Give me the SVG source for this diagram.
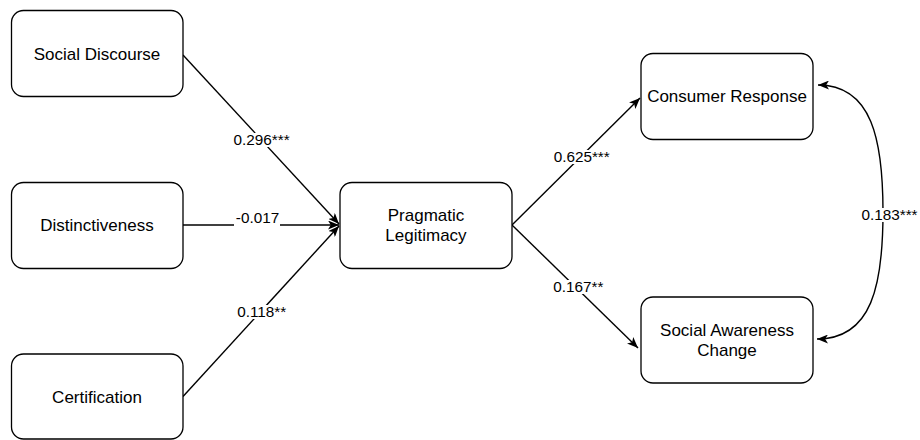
<svg xmlns="http://www.w3.org/2000/svg" width="920" height="440" viewBox="0 0 920 440">
  <style>
    .node rect { fill: #ffffff; stroke: #000000; stroke-width: 1.3; }
    .node text { font-family: "Liberation Sans", Arial, Helvetica, sans-serif; font-size: 17px; fill: #000000; text-anchor: middle; }
    .edge { fill: none; stroke: #000000; stroke-width: 1.4; }
    .lbl-bg { fill: #ffffff; stroke: none; }
    .lbl { font-family: "Liberation Sans", Arial, Helvetica, sans-serif; font-size: 15.3px; fill: #000000; text-anchor: middle; }
  </style>
  <defs>
    <marker id="arrow" viewBox="0 0 11 9" refX="11" refY="4.5" markerWidth="11" markerHeight="9" markerUnits="userSpaceOnUse" orient="auto-start-reverse">
      <path d="M0,0 L11,4.5 L0,9 L2.8,4.5 Z" fill="#000000"/>
    </marker>
  </defs>

  <rect width="920" height="440" fill="#ffffff"/>

  <!-- connectors -->
  <g id="connectors">
    <path class="edge" d="M183,55 L339,224" marker-end="url(#arrow)"/>
    <path class="edge" d="M183,225 L339,225" marker-end="url(#arrow)"/>
    <path class="edge" d="M183,396.5 L339,226" marker-end="url(#arrow)"/>
    <path class="edge" d="M512,225 L640,98" marker-end="url(#arrow)"/>
    <path class="edge" d="M512,225 L638,348" marker-end="url(#arrow)"/>
    <path class="edge" d="M818,85 C872,85 883,140 883,212 C883,285 872,339 817,339" marker-start="url(#arrow)" marker-end="url(#arrow)"/>

    <!-- path coefficients -->
    <rect class="lbl-bg" x="232" y="133" width="60" height="14"/>
    <text class="lbl" x="261.6" y="145">0.296***</text>
    <rect class="lbl-bg" x="234" y="211" width="46" height="17"/>
    <text class="lbl" x="257.5" y="223">-0.017</text>
    <rect class="lbl-bg" x="235" y="305" width="53" height="14"/>
    <text class="lbl" x="261.7" y="317">0.118**</text>
    <rect class="lbl-bg" x="552" y="150" width="60" height="14"/>
    <text class="lbl" x="581.7" y="162">0.625***</text>
    <rect class="lbl-bg" x="551" y="280" width="54" height="14"/>
    <text class="lbl" x="578.3" y="292">0.167**</text>
    <rect class="lbl-bg" x="860" y="208" width="60" height="14"/>
    <text class="lbl" x="889.5" y="220">0.183***</text>
  </g>

  <!-- constructs -->
  <g id="social-discourse" class="node">
    <rect x="11.5" y="10.5" width="171.5" height="86" rx="12"/>
    <text x="97" y="59.5">Social Discourse</text>
  </g>
  <g id="distinctiveness" class="node">
    <rect x="11.5" y="182.5" width="171.5" height="86" rx="12"/>
    <text x="97" y="231">Distinctiveness</text>
  </g>
  <g id="certification" class="node">
    <rect x="11.5" y="354" width="171.5" height="85" rx="12"/>
    <text x="97" y="402.5">Certification</text>
  </g>
  <g id="pragmatic-legitimacy" class="node">
    <rect x="340" y="182.5" width="172" height="86" rx="12"/>
    <text x="426" y="220.5">Pragmatic</text>
    <text x="426" y="240.5">Legitimacy</text>
  </g>
  <g id="consumer-response" class="node">
    <rect x="641" y="53.5" width="172" height="86" rx="12"/>
    <text x="727" y="102">Consumer Response</text>
  </g>
  <g id="social-awareness-change" class="node">
    <rect x="641" y="297" width="172" height="86" rx="12"/>
    <text x="727" y="335.5">Social Awareness</text>
    <text x="727" y="355.5">Change</text>
  </g>
</svg>
